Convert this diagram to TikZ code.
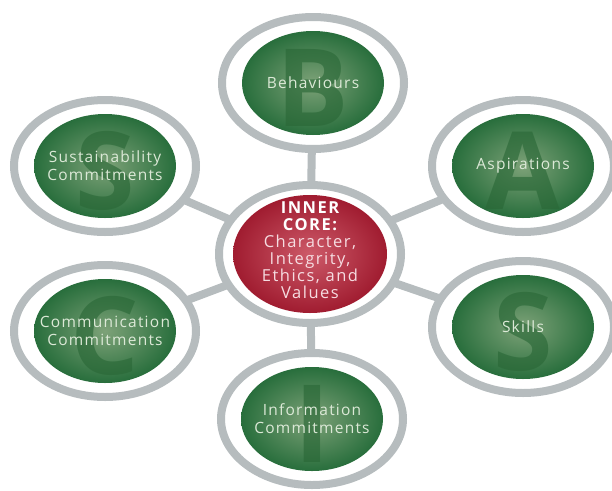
\documentclass[tikz,border=0pt]{standalone}
\usepackage{fontspec}
\usetikzlibrary{shapes.geometric,backgrounds}
\setmainfont{Open Sans}
\newfontfamily\lblfam[LetterSpace=8]{Open Sans}
\newfontfamily\corefam[LetterSpace=9]{Open Sans}
\newfontfamily\bigfam{Open Sans}
\definecolor{ringgray}{RGB}{182,188,190}
\definecolor{gdark}{RGB}{40,110,60}
\definecolor{glight}{RGB}{125,162,120}
\definecolor{gletter}{RGB}{42,104,55}
\definecolor{gtext}{RGB}{220,233,215}
\definecolor{rdark}{RGB}{160,28,48}
\definecolor{rlight}{RGB}{205,90,105}
\definecolor{rtext}{RGB}{246,220,225}
\tikzset{
  ringnode/.style={ellipse, draw=ringgray, line width=8pt, fill=white,
    minimum width=182pt, minimum height=132pt, inner sep=0pt},
  corering/.style={ringnode, minimum width=182pt, minimum height=138pt},
  conn/.style={draw=ringgray, line width=8pt},
  greenfill/.style={inner color=glight, outer color=gdark},
  redfill/.style={inner color=rlight, outer color=rdark},
  bigletter/.style={text=gletter, opacity=0.65, inner sep=0pt,
    font={\bigfam\fontsize{108}{108}\selectfont\bfseries}},
  lab/.style={text=gtext, align=center, inner sep=0pt,
    font={\lblfam\fontsize{15.5}{18}\selectfont}},
  coretext/.style={text=rtext, align=center, inner sep=0pt,
    font={\corefam\fontsize{16.5}{17}\selectfont}}
}
\begin{document}
\begin{tikzpicture}[x=1pt,y=-1pt]
\useasboundingbox (0,0) rectangle (612,490);
\node[ringnode] (beh) at (313,83) {};
\node[ringnode] (asp) at (523,166) {};
\node[ringnode] (ski) at (523,327) {};
\node[ringnode] (sus) at (105,166) {};
\node[ringnode] (com) at (105,331) {};
\node[ringnode] (inf) at (312,419) {};
\node[corering] (core) at (310,254) {};
\begin{scope}[on background layer]
\foreach \n in {beh,asp,ski,sus,com,inf}
  \draw[conn] (core.center) -- (\n.center);
\end{scope}
\foreach \n/\L in {beh/B,asp/A,ski/S,sus/S,com/C,inf/I}{
  \shade[greenfill] (\n.center) ellipse [x radius=71pt, y radius=52pt];
  \node[bigletter, yshift=-5pt] at (\n.center) {\L};
}
\node[lab] at (beh) {Behaviours};
\node[lab] at (asp) {Aspirations};
\node[lab] at (ski) {Skills};
\node[lab] at (sus) {Sustainability\\Commitments};
\node[lab] at (com) {Communication\\Commitments};
\node[lab] at (inf) {Information\\Commitments};
\shade[redfill] (core.center) ellipse [x radius=77pt, y radius=59pt];
\node[coretext, yshift=4pt] at (core) {\textcolor{white}{\bfseries INNER}\\\textcolor{white}{\bfseries CORE:}\\Character,\\Integrity,\\Ethics, and\\Values};
\end{tikzpicture}
\end{document}
